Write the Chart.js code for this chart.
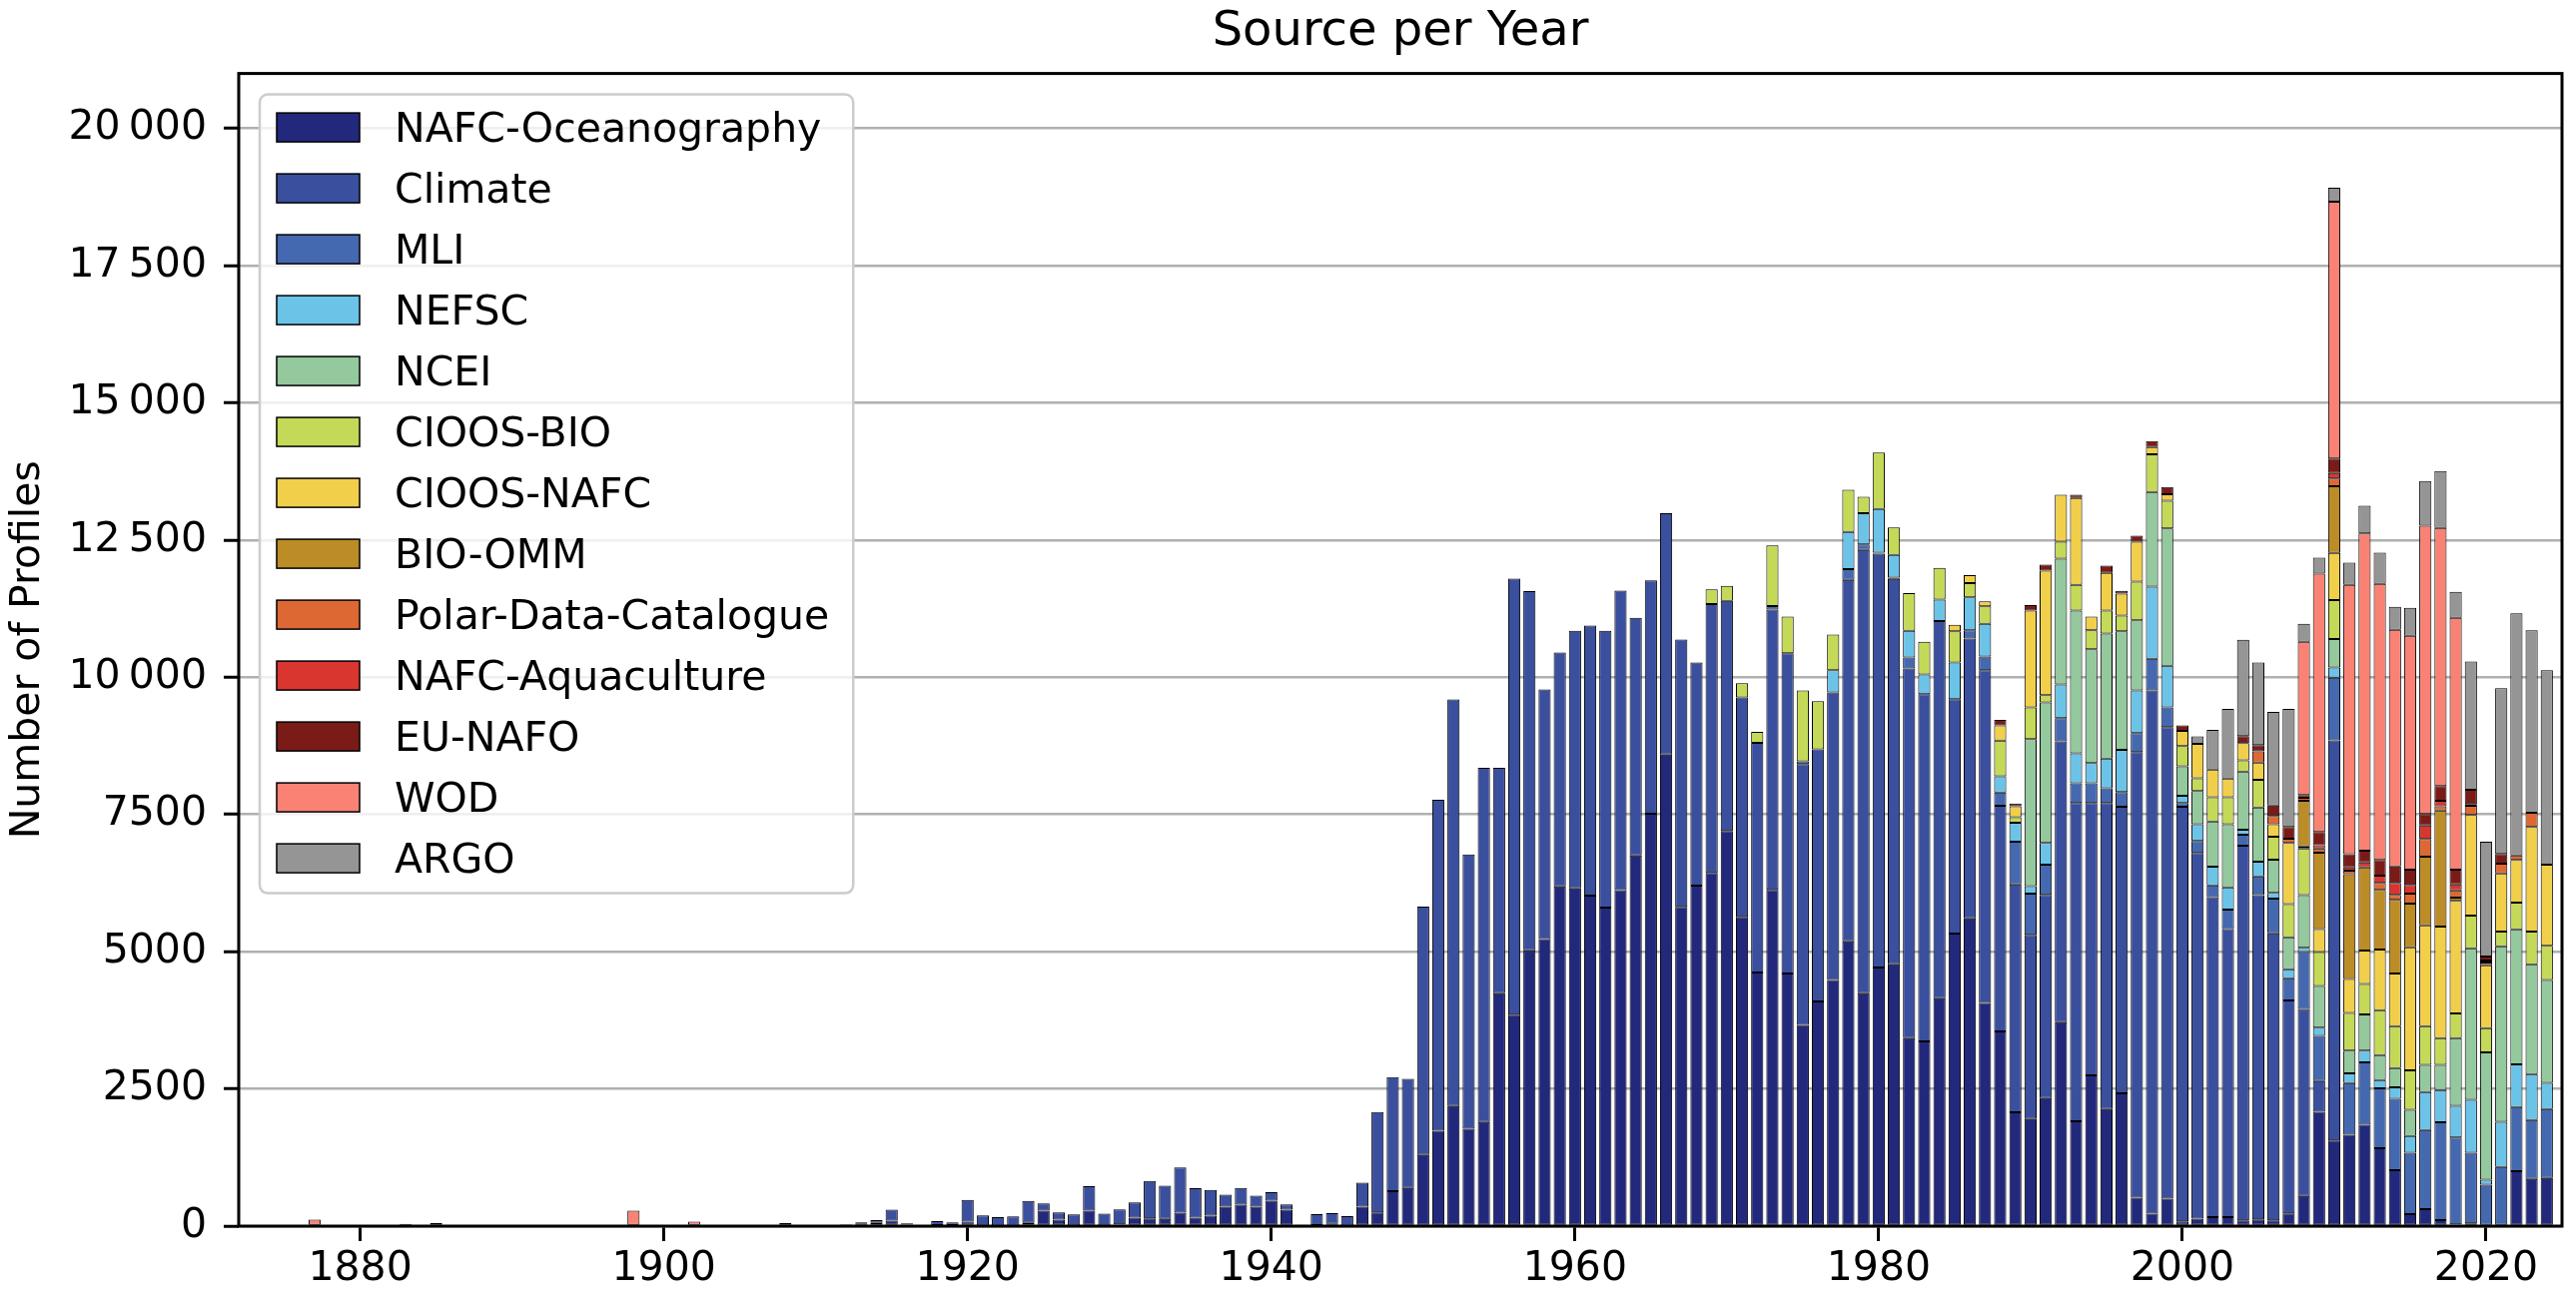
<!DOCTYPE html>
<html>
<head>
<meta charset="utf-8">
<script src="https://cdn.jsdelivr.net/npm/chart.js@4.4.1/dist/chart.umd.min.js"></script>
<style>
html, body { margin: 0; padding: 0; background: #ffffff; overflow: hidden; }
canvas { display: block; }
</style>
</head>
<body>
<canvas id="c" width="2579" height="1302"></canvas>
<script>
// ---------- categories ----------
const years = [1877,1878,1879,
1880,1881,1882,1883,1884,1885,1886,1887,1888,1889,
1890,1891,1892,1893,1894,1895,1896,1897,1898,1899,
1900,1901,1902,1903,1904,1905,1906,1907,1908,1909,
1910,1911,1912,1913,1914,1915,1916,1917,1918,1919,
1920,1921,1922,1923,1924,1925,1926,1927,1928,1929,
1930,1931,1932,1933,1934,1935,1936,1937,1938,1939,
1940,1941,1942,1943,1944,1945,1946,1947,1948,1949,
1950,1951,1952,1953,1954,1955,1956,1957,1958,1959,
1960,1961,1962,1963,1964,1965,1966,1967,1968,1969,
1970,1971,1972,1973,1974,1975,1976,1977,1978,1979,
1980,1981,1982,1983,1984,1985,1986,1987,1988,1989,
1990,1991,1992,1993,1994,1995,1996,1997,1998,1999,
2000,2001,2002,2003,2004,2005,2006,2007,2008,2009,
2010,2011,2012,2013,2014,2015,2016,2017,2018,2019,
2020,2021,2022,2023,2024];

const seriesNames = ['NAFC-Oceanography','Climate','MLI','NEFSC','NCEI','CIOOS-BIO','CIOOS-NAFC',
  'BIO-OMM','Polar-Data-Catalogue','NAFC-Aquaculture','EU-NAFO','WOD','ARGO'];
const seriesColors = ['#22287c','#3a4f9e','#4569b0','#6cc3e8','#94c89d','#c4d957','#f1cf4b',
  '#bc8c27','#dd6834','#d8362f','#7a1b18','#f98274','#959595'];

// ---------- series values (one per year, 1877-2024) ----------
const nafcOceanography = [0,0,0,
0,0,0,0,0,0,0,0,0,0,
0,0,0,0,0,0,0,0,0,0,
25,0,0,0,0,0,0,0,0,25,
0,0,30,40,60,98,30,0,20,20,
80,10,10,10,61,281,116,10,281,10,
30,153,140,134,244,153,189,354,391,354,
464,299,0,18,43,10,353,250,635,697,
1296,1737,2187,1772,1896,4241,3853,5026,5229,6190,
6155,6023,5802,6120,6755,7513,8590,5817,6205,6434,
7201,5637,4621,6125,4601,3665,4094,4482,5189,4243,
4711,4771,3426,3366,4153,5328,5607,4064,3546,2072,
1952,2331,3715,1912,2749,2131,2420,518,229,498,
85,135,164,164,103,121,103,231,550,2085,
1560,1665,1845,1420,1020,220,310,110,30,50,
0,0,1000,858,877];

const climate = [0,0,0,
0,0,0,0,0,0,0,0,0,0,
0,0,0,0,0,0,0,0,0,0,
0,0,0,0,0,0,0,0,0,0,
0,0,0,27,50,202,19,0,72,47,
397,186,155,167,397,134,134,204,446,216,
275,281,685,605,825,537,471,220,306,202,
153,98,18,202,195,173,440,1830,2080,1984,
4524,6032,7407,5000,6455,4110,7945,6543,4550,4259,
4691,4920,5044,5458,4329,4250,4400,4870,4064,4900,
4193,3994,4184,5110,5837,4751,4591,5239,6584,8077,
7540,7022,6733,6325,6873,4273,5100,6065,4113,4153,
3357,3705,5119,5797,4960,5578,5219,8117,9532,8595,
7554,6665,5830,5248,6826,5911,5233,3879,3408,558,
7292,0,0,0,0,0,0,0,0,0,
0,0,0,0,0];

const mli = [0,0,0,
0,0,0,0,0,0,0,0,0,0,
0,0,0,0,0,0,0,0,0,0,
0,0,0,0,0,0,0,0,0,0,
0,0,0,0,0,0,0,0,0,0,
0,0,0,0,0,0,0,0,0,0,
0,0,0,0,0,0,0,0,0,0,
0,0,0,0,0,0,0,0,0,0,
0,0,0,0,0,0,0,0,0,0,
0,0,0,0,0,0,0,0,0,0,
0,0,0,60,0,50,0,0,199,100,
20,20,199,0,0,0,149,249,239,777,
747,548,419,359,359,269,269,349,577,359,
70,216,215,354,203,341,633,404,1037,822,
1138,940,1139,1090,1301,1115,1443,1782,1583,1285,
757,1076,1171,1074,1254];

const nefsc = [0,0,0,
0,0,0,0,0,0,0,0,0,0,
0,0,0,0,0,0,0,0,0,0,
0,0,0,0,0,0,0,0,0,0,
0,0,0,0,0,0,0,0,0,0,
0,0,0,0,0,0,0,0,0,0,
0,0,0,0,0,0,0,0,0,0,
0,0,0,0,0,0,0,0,0,0,
0,0,0,0,0,0,0,0,0,0,
0,0,0,0,0,0,0,0,0,0,
0,0,0,0,0,0,0,408,677,568,
797,418,488,359,388,668,598,598,299,348,
139,398,617,547,368,538,767,777,1315,757,
130,308,341,405,88,266,101,165,76,151,
189,177,215,149,209,308,687,588,578,966,
90,826,777,837,479];

const ncei = [0,0,0,
0,0,0,0,0,0,0,0,0,0,
0,0,0,0,0,0,0,0,0,0,
0,0,0,0,0,0,0,0,0,0,
0,0,0,0,0,0,0,0,0,0,
0,0,0,0,0,0,0,0,0,0,
0,0,0,0,0,0,0,0,0,0,
0,0,0,0,0,0,0,0,0,0,
0,0,0,0,0,0,0,0,0,0,
0,0,0,0,0,0,0,0,0,0,
0,0,0,0,0,0,0,0,0,0,
0,0,0,0,0,0,0,0,0,0,
2679,2560,2291,2600,2072,2281,2161,1275,1723,2500,
537,601,822,1150,1062,986,607,581,961,759,
519,417,658,458,348,478,498,458,1235,2759,
2320,3198,2460,2002,1872];

const cioosBio = [0,0,0,
0,0,0,0,0,0,0,0,0,0,
0,0,0,0,0,0,0,0,0,0,
0,0,0,0,0,0,0,0,0,0,
0,0,0,0,0,0,0,0,0,0,
0,0,0,0,0,0,0,0,0,0,
0,0,0,0,0,0,0,0,0,0,
0,0,0,0,0,0,0,0,0,0,
0,0,0,0,0,0,0,0,0,0,
0,0,0,0,0,0,0,0,0,269,
269,259,199,1105,667,1295,877,648,767,299,
1025,498,688,597,578,567,259,318,647,100,
578,129,309,468,348,418,289,707,687,508,
369,233,443,494,203,506,417,607,847,620,
708,683,556,817,767,718,707,488,448,597,
439,268,488,597,627];

const cioosNafc = [0,0,0,
0,0,0,0,0,0,0,0,0,0,
0,0,0,0,0,0,0,0,0,0,
0,0,0,0,0,0,0,0,0,0,
0,0,0,0,0,0,0,0,0,0,
0,0,0,0,0,0,0,0,0,0,
0,0,0,0,0,0,0,0,0,0,
0,0,0,0,0,0,0,0,0,0,
0,0,0,0,0,0,0,0,0,0,
0,0,0,0,0,0,0,0,0,0,
0,0,0,0,0,0,0,0,0,0,
0,0,0,0,0,120,149,90,279,199,
1763,2271,856,1584,249,687,399,727,130,119,
279,630,505,341,316,316,227,1113,38,417,
860,620,607,1106,957,2241,1833,2032,2052,1833,
1145,1056,777,1903,1475];

const bioOmm = [0,0,0,
0,0,0,0,0,0,0,0,0,0,
0,0,0,0,0,0,0,0,0,0,
0,0,0,0,0,0,0,0,0,0,
0,0,0,0,0,0,0,0,0,0,
0,0,0,0,0,0,0,0,0,0,
0,0,0,0,0,0,0,0,0,0,
0,0,0,0,0,0,0,0,0,0,
0,0,0,0,0,0,0,0,0,0,
0,0,0,0,0,0,0,0,0,0,
0,0,0,0,0,0,0,0,0,0,
0,0,0,0,0,0,0,0,0,0,
0,0,0,0,0,0,0,0,0,0,
0,0,0,0,0,0,0,0,834,1391,
1214,1909,1517,1085,1344,796,1255,2112,60,0,
0,0,0,0,0];

const polarDataCatalogue = [0,0,0,
0,0,0,0,0,0,0,0,0,0,
0,0,0,0,0,0,0,0,0,0,
0,0,0,0,0,0,0,0,0,0,
0,0,0,0,0,0,0,0,0,0,
0,0,0,0,0,0,0,0,0,0,
0,0,0,0,0,0,0,0,0,0,
0,0,0,0,0,0,0,0,0,0,
0,0,0,0,0,0,0,0,0,0,
0,0,0,0,0,0,0,0,0,0,
0,0,0,0,0,0,0,0,0,0,
0,0,0,0,0,0,0,0,0,0,
0,0,0,0,0,0,0,0,0,0,
0,0,0,0,0,202,152,76,51,76,
139,63,0,130,90,180,319,79,129,169,
50,180,80,259,0];

const nafcAquaculture = [0,0,0,
0,0,0,0,0,0,0,0,0,0,
0,0,0,0,0,0,0,0,0,0,
0,0,0,0,0,0,0,0,0,0,
0,0,0,0,0,0,0,0,0,0,
0,0,0,0,0,0,0,0,0,0,
0,0,0,0,0,0,0,0,0,0,
0,0,0,0,0,0,0,0,0,0,
0,0,0,0,0,0,0,0,0,0,
0,0,0,0,0,0,0,0,0,0,
0,0,0,0,0,0,0,0,0,0,
0,0,0,0,0,0,0,0,0,0,
0,0,0,0,0,0,0,0,0,0,
0,0,0,0,0,0,0,0,0,63,
101,63,89,129,219,159,249,100,110,30,
40,0,0,0,0];

const euNafo = [0,0,0,
0,0,0,0,0,0,0,0,0,0,
0,0,0,0,0,0,0,0,0,0,
0,0,0,0,0,0,0,0,0,0,
0,0,0,0,0,0,0,0,0,0,
0,0,0,0,0,0,0,0,0,0,
0,0,0,0,0,0,0,0,0,0,
0,0,0,0,0,0,0,0,0,0,
0,0,0,0,0,0,0,0,0,0,
0,0,0,0,0,0,0,0,0,0,
0,0,0,0,0,0,0,0,0,0,
0,0,0,0,0,0,0,0,100,50,
100,109,0,59,0,130,49,109,110,130,
99,0,0,0,126,114,190,215,51,240,
265,241,215,289,299,279,209,269,269,259,
69,179,0,0,0];

const wod = [120,0,0,
0,0,0,43,0,61,0,0,0,0,
0,0,0,0,0,0,0,0,281,0,
0,0,80,0,0,0,0,0,61,0,
0,0,0,0,0,0,0,0,0,0,
0,0,0,0,0,0,0,0,0,0,
0,0,0,0,0,0,0,0,0,0,
0,0,0,0,0,0,0,0,0,0,
0,0,0,0,0,0,0,0,0,0,
0,0,0,0,0,0,0,0,0,0,
0,0,0,0,0,0,0,0,0,0,
0,0,0,0,0,0,0,0,0,0,
0,0,0,0,0,0,0,0,0,0,
0,0,0,0,0,0,0,0,2794,4704,
4679,4906,5778,5030,4312,4263,5249,4701,4591,0,
0,0,0,0,0];

const argo = [0,0,0,
0,0,0,0,0,0,0,0,0,0,
0,0,0,0,0,0,0,0,0,0,
0,0,0,0,0,0,0,0,0,0,
0,0,0,0,0,0,0,0,0,0,
0,0,0,0,0,0,0,0,0,0,
0,0,0,0,0,0,0,0,0,0,
0,0,0,0,0,0,0,0,0,0,
0,0,0,0,0,0,0,0,0,0,
0,0,0,0,0,0,0,0,0,0,
0,0,0,0,0,0,0,0,0,0,
0,0,0,0,0,0,0,0,0,0,
0,0,0,0,0,0,0,0,0,0,
0,134,721,1265,1758,1505,1707,2150,329,291,
253,405,506,568,419,508,816,1036,469,2341,
2092,3018,4412,3326,3545];

// ---------- tick labels ----------
const xTickValues = [1880,1900,1920,1940,1960,1980,2000,2020];
const xTickLabels = ['1880','1900','1920','1940','1960','1980','2000','2020'];
const yTickValues = [0,2500,5000,7500,10000,12500,15000,17500,20000];
const yTickLabels = ['0','2500','5000','7500','10\u2009000','12\u2009500','15\u2009000','17\u2009500','20\u2009000'];

// ---------- build ----------
const seriesValues = [nafcOceanography, climate, mli, nefsc, ncei, cioosBio, cioosNafc,
  bioOmm, polarDataCatalogue, nafcAquaculture, euNafo, wod, argo];
seriesValues.forEach((s, i) => {
  if (s.length !== years.length) throw new Error(seriesNames[i] + ' length ' + s.length + ' vs ' + years.length);
});

const datasets = seriesValues.map((vals, i) => ({
  label: seriesNames[i],
  data: vals.map(v => (v === 0 ? null : v)),
  backgroundColor: seriesColors[i],
  borderColor: '#000000',
  borderWidth: 1,
  borderSkipped: false,
  categoryPercentage: 0.8,
  barPercentage: 1.0
}));

const FS = 41;
Chart.defaults.font.family = "'DejaVu Sans', sans-serif";
Chart.defaults.color = '#000000';

const frameAndLegend = {
  id: 'frameAndLegend',
  afterDatasetsDraw(chart) {
    const ctx = chart.ctx;
    const ca = chart.chartArea;
    ctx.save();
    ctx.font = FS + "px 'DejaVu Sans', sans-serif";
    let maxW = 0;
    seriesNames.forEach(n => { maxW = Math.max(maxW, ctx.measureText(n).width); });
    const bx = ca.left + 21, by = ca.top + 21;
    const rowH = 61, firstRow = 33, lastPad = 35;
    const bw = 135 + maxW + 24;
    const bh = firstRow + rowH * (seriesNames.length - 1) + lastPad;
    ctx.beginPath();
    if (ctx.roundRect) ctx.roundRect(bx, by, bw, bh, 8); else ctx.rect(bx, by, bw, bh);
    ctx.fillStyle = 'rgba(255,255,255,0.8)';
    ctx.fill();
    ctx.lineWidth = 2.5;
    ctx.strokeStyle = '#cccccc';
    ctx.stroke();
    seriesNames.forEach((n, i) => {
      const cy = by + firstRow + i * rowH;
      ctx.fillStyle = seriesColors[i];
      ctx.fillRect(bx + 17, cy - 14.5, 83, 29);
      ctx.lineWidth = 1.5;
      ctx.strokeStyle = '#000000';
      ctx.strokeRect(bx + 17, cy - 14.5, 83, 29);
      ctx.fillStyle = '#000000';
      ctx.textAlign = 'left';
      ctx.textBaseline = 'alphabetic';
      ctx.fillText(n, bx + 135, cy + 14.5);
    });
    ctx.lineWidth = 3;
    ctx.strokeStyle = '#000000';
    ctx.strokeRect(ca.left, ca.top, ca.right - ca.left, ca.bottom - ca.top);
    ctx.restore();
  }
};

new Chart(document.getElementById('c'), {
  type: 'bar',
  data: { labels: years, datasets: datasets },
  options: {
    responsive: false,
    animation: false,
    devicePixelRatio: 1,
    layout: { padding: { left: 0, right: 14, top: 0, bottom: 0 } },
    plugins: {
      legend: { display: false },
      tooltip: { enabled: false },
      title: {
        display: true,
        fullSize: false,
        text: 'Source per Year',
        color: '#000000',
        font: { size: 48, weight: 'normal' },
        padding: { top: 4, bottom: 12 }
      }
    },
    scales: {
      x: {
        type: 'linear',
        stacked: true,
        min: 1872,
        max: 2025,
        offset: false,
        grid: { display: true, drawOnChartArea: false, drawTicks: true, tickLength: 15,
                tickWidth: 3, tickColor: '#000000', offset: false },
        border: { display: false },
        ticks: {
          color: '#000000', font: { size: FS }, padding: 4, maxRotation: 0, autoSkip: false,
          callback: (v) => { const k = xTickValues.indexOf(v); return k >= 0 ? xTickLabels[k] : ''; }
        },
        afterBuildTicks: (s) => { s.ticks = xTickValues.map(v => ({ value: v })); },
        afterFit: (s) => { s.height = 74; }
      },
      y: {
        stacked: true,
        min: 0,
        max: 21000,
        grid: { color: '#b0b0b0', lineWidth: 2.5, drawTicks: true, tickLength: 15,
                tickWidth: 3, tickColor: '#000000' },
        border: { display: false },
        ticks: {
          color: '#000000', font: { size: FS }, padding: 17,
          callback: (v) => { const k = yTickValues.indexOf(v); return k >= 0 ? yTickLabels[k] : ''; }
        },
        title: { display: true, text: 'Number of Profiles', color: '#000000',
                 font: { size: FS }, padding: { top: 4, bottom: 0 } },
        afterBuildTicks: (s) => { s.ticks = yTickValues.map(v => ({ value: v })); },
        afterFit: (s) => { s.width = 239; }
      }
    }
  },
  plugins: [frameAndLegend]
});
</script>
</body>
</html>
